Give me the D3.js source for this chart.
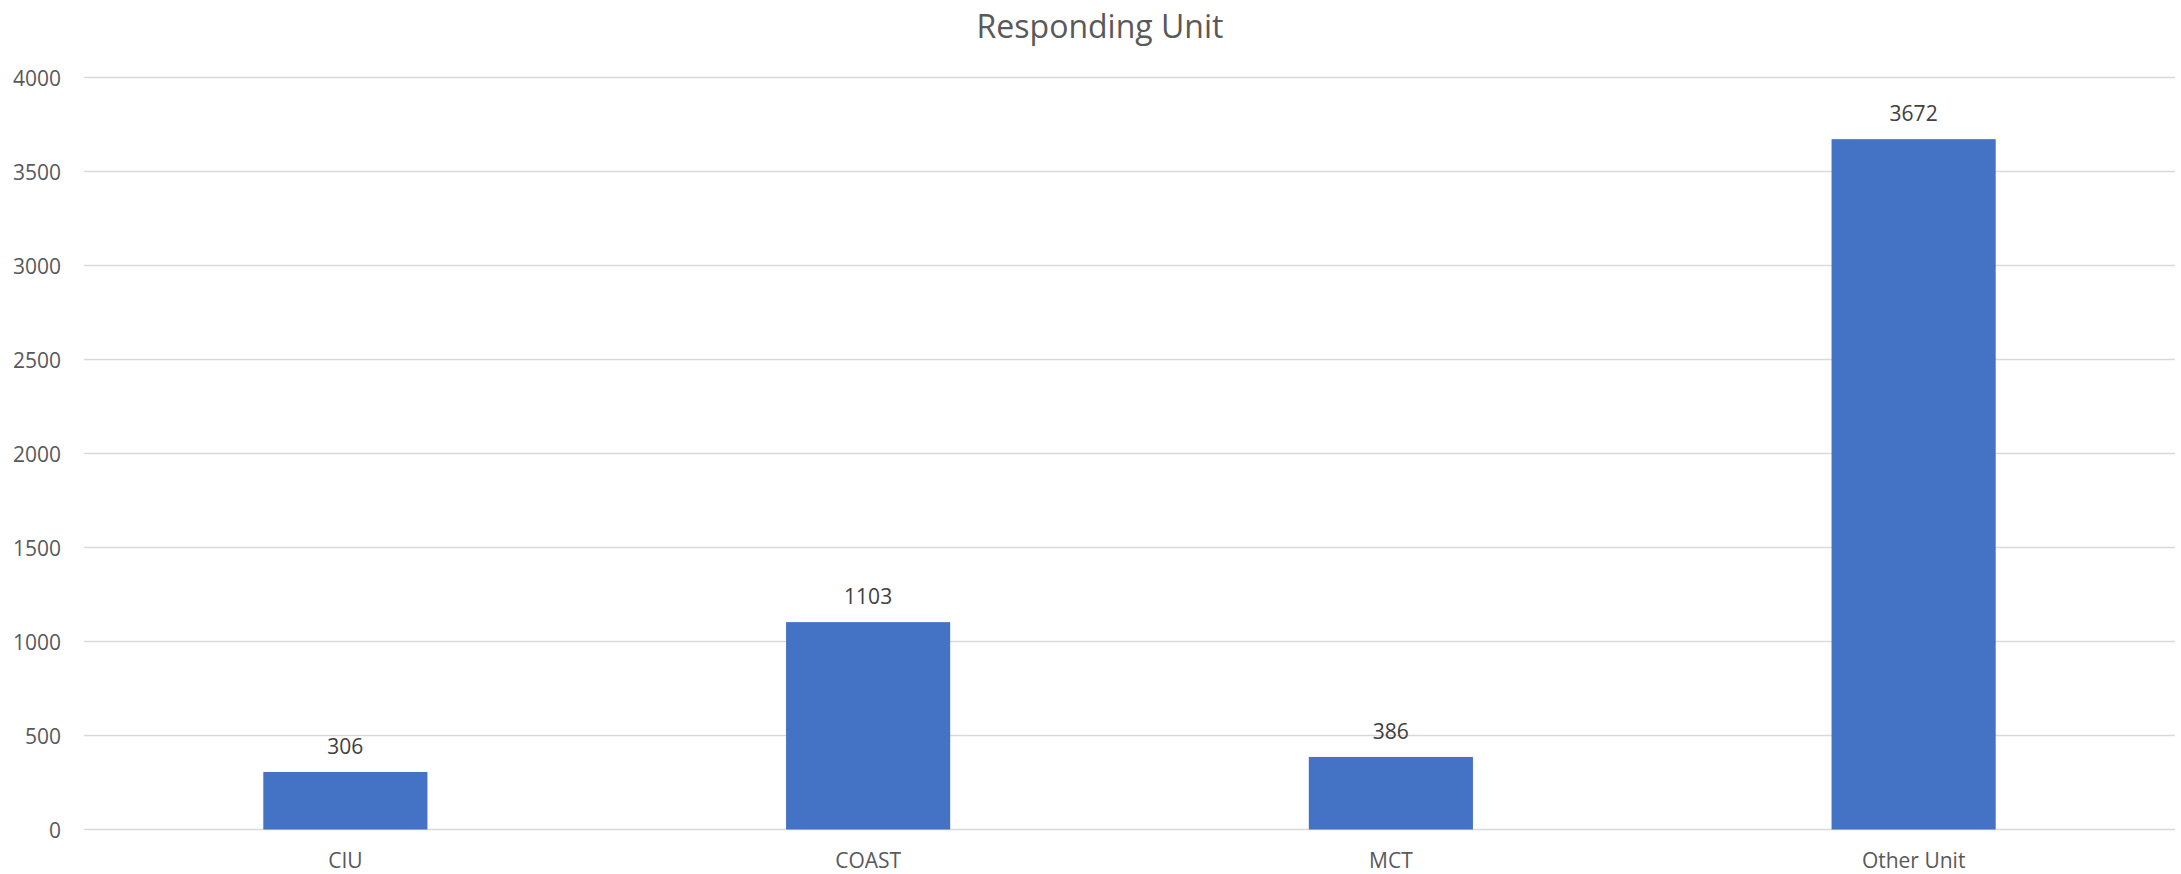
<!DOCTYPE html>
<html>
<head>
<meta charset="utf-8">
<script src="https://cdn.jsdelivr.net/npm/d3@7"></script>
<style>
  html, body { margin: 0; padding: 0; background: #fff; }
  svg { display: block; }
  text { font-family: "Open Sans", "Liberation Sans", sans-serif; }
</style>
</head>
<body>
<svg id="chart" width="2181" height="874"></svg>
<script>
const categories = ["CIU", "COAST", "MCT", "Other Unit"];
const values = [306, 1103, 386, 3672];
const yTicks = [0, 500, 1000, 1500, 2000, 2500, 3000, 3500, 4000];
const title = "Responding Unit";

const svg = d3.select("#chart");
const plot = { left: 84, right: 2175, top: 77.5, bottom: 829.5 };

const x = d3.scaleBand()
  .domain(categories)
  .range([plot.left, plot.right])
  .paddingInner(0.686)
  .paddingOuter(0.343);

const y = d3.scaleLinear()
  .domain([0, 4000])
  .range([plot.bottom, plot.top]);

// gridlines
svg.append("g")
  .selectAll("line")
  .data(yTicks)
  .join("line")
  .attr("x1", plot.left)
  .attr("x2", plot.right)
  .attr("y1", d => y(d))
  .attr("y2", d => y(d))
  .attr("stroke", "#d9d9d9")
  .attr("stroke-width", 1.5);

// y axis labels
const yAxis = d3.axisLeft(y).tickValues(yTicks).tickFormat(d3.format("d")).tickSize(0).tickPadding(0);
const ya = svg.append("g")
  .attr("transform", `translate(${plot.left - 23},0)`)
  .call(yAxis);
ya.select(".domain").remove();
ya.selectAll("text")
  .attr("font-size", 21)
  .attr("fill", "#595959")
  .attr("font-family", "'Open Sans', sans-serif")
  .attr("dy", "0.36em");

// bars
svg.append("g")
  .selectAll("rect")
  .data(values)
  .join("rect")
  .attr("x", (d, i) => x(categories[i]))
  .attr("width", x.bandwidth())
  .attr("y", d => y(d))
  .attr("height", d => y(0) - y(d))
  .attr("fill", "#4472c4");

// data labels
svg.append("g")
  .selectAll("text")
  .data(values)
  .join("text")
  .attr("x", (d, i) => x(categories[i]) + x.bandwidth() / 2)
  .attr("y", d => y(d) - 18)
  .attr("text-anchor", "middle")
  .attr("font-size", 21)
  .attr("fill", "#404040")
  .text(d => d);

// x axis labels
const xAxis = d3.axisBottom(x).tickSize(0).tickPadding(0);
const xa = svg.append("g")
  .attr("transform", `translate(0,${plot.bottom})`)
  .call(xAxis);
xa.select(".domain").remove();
xa.selectAll("text")
  .attr("font-size", 21)
  .attr("fill", "#595959")
  .attr("font-family", "'Open Sans', sans-serif")
  .attr("dy", null)
  .attr("y", 38.5);

// title
svg.append("text")
  .attr("x", 1100)
  .attr("y", 38)
  .attr("text-anchor", "middle")
  .attr("font-size", 32)
  .attr("fill", "#595959")
  .text(title);
</script>
</body>
</html>
